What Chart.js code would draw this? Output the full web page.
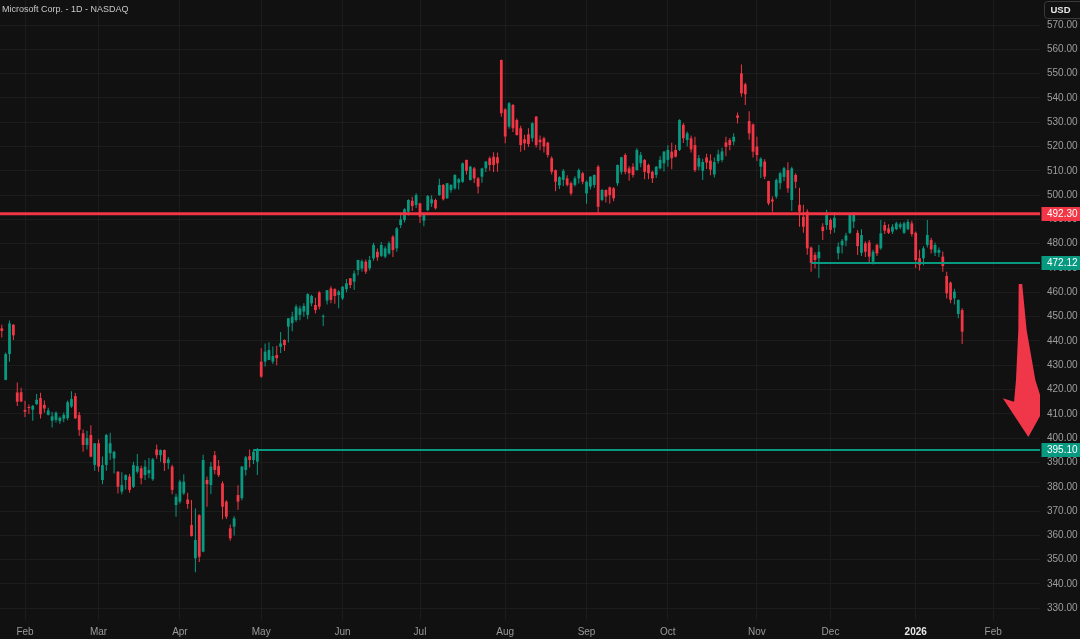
<!DOCTYPE html>
<html>
<head>
<meta charset="utf-8">
<script src="https://cdn.jsdelivr.net/npm/chart.js@4.4.1/dist/chart.umd.min.js"></script>
<style>
html,body{margin:0;padding:0;background:#111111;}
canvas{display:block;}
</style>
</head>
<body>
<canvas id="c" width="1080" height="639"></canvas>
<script>
// ---------------- DATA ----------------
const titleText = 'Microsoft Corp. - 1D - NASDAQ';
const currencyText = 'USD';

const dates = [
'2025-01-24','2025-01-27','2025-01-28','2025-01-29','2025-01-30','2025-01-31',
'2025-02-03','2025-02-04','2025-02-05','2025-02-06','2025-02-07','2025-02-10','2025-02-11','2025-02-12','2025-02-13','2025-02-14',
'2025-02-18','2025-02-19','2025-02-20','2025-02-21','2025-02-24','2025-02-25','2025-02-26','2025-02-27','2025-02-28',
'2025-03-03','2025-03-04','2025-03-05','2025-03-06','2025-03-07','2025-03-10','2025-03-11','2025-03-12','2025-03-13','2025-03-14',
'2025-03-17','2025-03-18','2025-03-19','2025-03-20','2025-03-21','2025-03-24','2025-03-25','2025-03-26','2025-03-27','2025-03-28','2025-03-31',
'2025-04-01','2025-04-02','2025-04-03','2025-04-04','2025-04-07','2025-04-08','2025-04-09','2025-04-10','2025-04-11',
'2025-04-14','2025-04-15','2025-04-16','2025-04-17','2025-04-21','2025-04-22','2025-04-23','2025-04-24','2025-04-25','2025-04-28','2025-04-29','2025-04-30',
'2025-05-01','2025-05-02','2025-05-05','2025-05-06','2025-05-07','2025-05-08','2025-05-09','2025-05-12','2025-05-13','2025-05-14','2025-05-15','2025-05-16',
'2025-05-19','2025-05-20','2025-05-21','2025-05-22','2025-05-23','2025-05-27','2025-05-28','2025-05-29','2025-05-30',
'2025-06-02','2025-06-03','2025-06-04','2025-06-05','2025-06-06','2025-06-09','2025-06-10','2025-06-11','2025-06-12','2025-06-13',
'2025-06-16','2025-06-17','2025-06-18','2025-06-20','2025-06-23','2025-06-24','2025-06-25','2025-06-26','2025-06-27','2025-06-30',
'2025-07-01','2025-07-02','2025-07-03','2025-07-07','2025-07-08','2025-07-09','2025-07-10','2025-07-11','2025-07-14','2025-07-15','2025-07-16','2025-07-17','2025-07-18',
'2025-07-21','2025-07-22','2025-07-23','2025-07-24','2025-07-25','2025-07-28','2025-07-29','2025-07-30','2025-07-31',
'2025-08-01','2025-08-04','2025-08-05','2025-08-06','2025-08-07','2025-08-08','2025-08-11','2025-08-12','2025-08-13','2025-08-14','2025-08-15',
'2025-08-18','2025-08-19','2025-08-20','2025-08-21','2025-08-22','2025-08-25','2025-08-26','2025-08-27','2025-08-28','2025-08-29',
'2025-09-02','2025-09-03','2025-09-04','2025-09-05','2025-09-08','2025-09-09','2025-09-10','2025-09-11','2025-09-12',
'2025-09-15','2025-09-16','2025-09-17','2025-09-18','2025-09-19','2025-09-22','2025-09-23','2025-09-24','2025-09-25','2025-09-26','2025-09-29','2025-09-30',
'2025-10-01','2025-10-02','2025-10-03','2025-10-06','2025-10-07','2025-10-08','2025-10-09','2025-10-10','2025-10-13','2025-10-14','2025-10-15','2025-10-16','2025-10-17',
'2025-10-20','2025-10-21','2025-10-22','2025-10-23','2025-10-24','2025-10-27','2025-10-28','2025-10-29','2025-10-30','2025-10-31',
'2025-11-03','2025-11-04','2025-11-05','2025-11-06','2025-11-07','2025-11-10','2025-11-11','2025-11-12','2025-11-13','2025-11-14',
'2025-11-17','2025-11-18','2025-11-19','2025-11-20','2025-11-21','2025-11-24','2025-11-25','2025-11-26','2025-11-28',
'2025-12-01','2025-12-02','2025-12-03','2025-12-04','2025-12-05','2025-12-08','2025-12-09','2025-12-10','2025-12-11','2025-12-12',
'2025-12-15','2025-12-16','2025-12-17','2025-12-18','2025-12-19','2025-12-22','2025-12-23','2025-12-24','2025-12-26','2025-12-29','2025-12-30','2025-12-31',
'2026-01-02','2026-01-05','2026-01-06','2026-01-07','2026-01-08','2026-01-09','2026-01-12','2026-01-13','2026-01-14','2026-01-15','2026-01-16','2026-01-20','2026-01-21'
];

const opens = [
445.2,424.0,434.6,446.7,418.8,418.9,
411.6,412.7,411.7,414.0,416.5,413.7,409.6,407.2,407.5,407.0,
408.0,408.2,413.0,417.3,409.5,402.0,397.2,401.3,389.0,
397.9,382.8,389.0,393.8,391.7,386.2,378.0,382.8,384.2,380.0,
386.2,387.6,384.8,385.5,383.1,395.4,393.0,395.1,389.7,388.3,372.5,
373.9,377.3,374.8,364.3,350.6,368.3,353.3,382.8,380.7,
393.0,388.5,381.4,373.9,362.9,363.6,376.6,375.3,386.9,392.6,391.0,390.3,
431.5,431.5,432.2,431.5,434.2,437.6,440.4,445.9,447.3,448.6,450.7,452.1,
450.7,455.5,454.8,460.0,449.9,456.6,461.6,461.3,458.9,
457.5,461.3,465.8,464.4,469.2,469.8,472.6,469.9,474.0,476.7,
475.0,474.7,476.0,482.9,478.1,487.7,489.8,493.2,497.7,495.9,
496.6,489.5,493.8,496.6,498.0,500.0,504.2,498.7,502.1,502.8,505.1,505.5,514.5,
506.2,511.0,506.9,507.6,511.0,515.2,515.8,515.6,555.6,
535.3,528.2,537.1,530.9,527.5,523.0,525.0,523.4,532.3,522.8,523.4,
521.6,515.2,510.3,504.0,506.3,506.9,504.9,504.2,506.9,509.0,
500.7,503.5,504.2,511.7,498.0,502.1,503.2,502.8,504.9,
509.6,516.5,511.0,511.7,510.3,513.1,514.5,512.4,509.6,508.3,511.0,513.1,
514.5,517.9,518.6,518.6,528.9,522.7,523.4,520.6,511.7,510.0,515.5,514.2,508.5,
514.0,514.5,521.7,522.7,522.0,532.8,550.1,545.6,530.5,529.1,
520.0,511.7,513.8,505.8,498.2,499.4,504.9,507.5,510.3,498.0,
508.3,496.0,491.1,493.2,478.4,475.4,474.0,487.0,487.7,
489.8,486.6,476.1,479.4,481.3,484.5,489.1,484.5,476.3,480.2,
480.6,472.6,479.5,478.1,487.7,486.3,485.0,486.0,486.8,484.5,486.0,488.4,
484.5,474.0,474.0,479.5,481.5,476.3,476.3,474.7,466.7,464.0,457.5,451.1,452.7
];

const highs = [
446.7,435.2,448.4,446.9,422.9,420.7,
415.4,413.9,413.6,418.2,418.7,415.5,412.5,410.8,411.0,408.9,
410.6,415.5,419.3,418.6,410.8,403.6,403.1,405.3,397.9,
399.5,392.5,401.8,402.2,394.8,386.4,386.0,385.2,385.3,390.3,
393.5,388.6,391.0,391.8,391.8,397.4,395.3,395.3,392.2,389.1,377.1,
382.9,385.1,377.5,374.6,371.1,368.7,393.2,384.2,390.2,
394.7,391.0,382.3,374.5,364.5,367.9,380.6,388.5,392.7,395.3,395.3,396.0,
437.0,439.0,439.5,437.7,438.0,443.7,440.7,449.4,452.0,455.0,454.5,455.5,
459.6,459.0,457.8,460.5,450.9,461.0,462.5,461.7,461.0,
462.6,465.5,465.9,469.0,473.4,473.5,473.5,475.0,480.4,478.0,
480.7,479.0,481.0,483.5,486.9,491.9,494.6,498.3,499.3,500.8,
496.9,492.5,500.1,500.0,498.6,506.7,504.6,505.0,504.5,508.6,507.0,513.4,514.6,
512.1,511.6,507.5,511.3,514.0,515.9,517.6,517.5,555.8,
535.8,538.3,537.5,531.5,528.5,524.8,527.5,530.0,532.6,524.5,524.0,
522.0,516.0,510.5,507.8,510.8,508.2,505.6,507.8,511.0,509.6,
506.0,507.8,508.5,512.4,502.5,502.3,503.5,503.3,512.6,
515.8,517.2,512.0,513.1,519.3,517.7,514.9,512.9,510.0,512.0,516.0,518.2,
520.5,521.6,520.7,531.2,529.7,526.2,524.5,524.0,516.5,515.0,517.0,516.8,515.5,
518.7,519.5,524.0,523.5,525.5,534.0,553.8,546.2,534.5,529.5,
524.0,515.6,514.8,505.9,499.4,506.8,509.6,511.7,513.5,511.7,
509.0,503.0,496.0,494.2,478.9,476.5,479.5,488.4,494.0,
490.5,493.0,480.5,482.0,484.5,492.5,493.0,485.7,486.0,481.0,
481.5,477.5,480.0,489.8,489.0,488.0,488.0,489.0,488.8,489.0,490.0,489.5,
485.0,477.5,479.0,489.8,482.5,480.5,478.5,476.8,468.5,464.5,461.5,457.1,453.5
];

const lows = [
441.4,423.8,431.4,440.4,413.2,414.9,
408.7,409.9,407.2,413.5,408.1,410.5,409.3,404.4,406.4,405.9,
406.5,407.4,412.5,407.9,401.0,394.4,395.3,392.1,386.6,
386.2,381.0,386.6,391.0,385.5,377.2,376.9,378.9,377.5,379.5,
385.5,381.0,382.8,383.5,382.5,391.5,390.3,386.5,387.2,376.9,367.7,
373.1,376.6,371.0,359.5,344.8,349.0,353.1,371.8,377.0,
385.2,384.0,366.6,366.7,357.8,360.0,370.5,374.5,384.6,387.9,389.4,384.8,
424.9,429.5,432.1,430.5,430.0,435.0,435.9,439.4,444.0,447.8,448.5,450.0,
448.9,454.3,451.3,453.0,446.2,455.0,455.5,455.3,453.5,
456.8,460.0,461.7,461.0,467.0,468.6,467.5,469.0,473.0,473.0,
474.5,474.0,475.5,474.5,476.7,486.5,488.7,491.6,493.5,494.7,
488.5,487.2,493.4,495.1,494.1,499.7,497.8,498.5,501.0,502.2,502.3,505.0,508.5,
506.0,505.0,500.7,505.1,509.5,510.0,509.5,509.6,532.3,
521.3,527.3,526.0,524.5,517.9,518.5,519.8,522.0,519.6,518.5,517.5,
515.5,508.5,501.6,502.5,503.8,503.5,499.8,503.6,504.8,504.5,
496.5,502.3,503.0,492.4,497.5,497.0,496.5,497.5,503.9,
508.5,508.6,505.9,507.3,510.0,511.5,506.5,506.5,505.0,507.0,510.5,509.7,
511.7,510.7,515.5,518.2,521.5,520.0,517.5,509.5,510.2,506.2,510.8,508.2,507.3,
513.0,513.5,516.0,518.5,520.5,529.5,540.5,537.1,522.8,515.5,
514.0,507.1,506.5,495.8,493.2,498.5,502.4,505.7,501.0,493.5,
502.8,487.0,484.5,475.5,468.5,469.9,465.9,481.5,485.8,
484.0,484.5,473.5,476.0,479.0,484.0,486.5,475.4,475.0,474.5,
472.5,471.5,475.0,477.5,484.0,484.0,484.0,485.5,486.0,484.0,485.5,483.0,
470.0,469.0,471.0,478.5,476.0,475.0,474.5,468.5,457.5,455.5,455.0,449.3,438.7
];

const closes = [
444.1,434.6,447.2,442.3,415.0,415.1,
410.9,412.4,413.3,415.8,409.8,412.2,411.4,409.0,410.5,408.4,
409.6,414.8,416.1,408.2,403.4,397.2,400.0,392.4,397.9,
388.3,388.9,401.3,397.9,394.4,380.0,380.7,384.8,378.7,388.9,
388.5,383.5,388.3,386.9,391.3,393.0,395.1,389.7,391.3,378.7,375.9,
382.1,382.1,372.9,359.7,358.1,351.2,391.0,381.1,388.3,
386.9,384.8,371.8,367.7,358.8,367.0,373.9,388.3,392.1,391.0,394.4,395.1,
425.3,435.6,436.3,433.8,432.9,439.0,438.3,449.3,450.0,454.1,453.4,454.4,
459.3,458.5,452.7,454.1,450.2,460.9,456.9,458.5,460.3,
462.3,463.7,463.0,467.8,473.3,472.8,468.5,473.3,479.5,474.4,
479.5,478.1,480.2,477.4,486.3,490.0,494.2,498.0,495.5,500.0,
491.1,491.8,499.6,498.3,494.6,504.2,498.3,504.9,504.2,508.3,506.5,513.1,510.0,
511.7,506.9,503.5,511.0,513.8,512.4,512.4,513.1,533.7,
524.1,537.8,527.5,524.7,520.6,521.3,521.0,529.6,520.6,521.8,520.0,
516.5,509.6,505.5,507.4,510.0,504.2,500.7,506.9,510.3,505.5,
505.5,507.6,508.3,495.2,502.1,499.4,500.0,498.7,512.4,
515.6,509.6,509.0,508.3,518.6,516.5,509.6,509.0,506.9,511.7,514.5,517.9,
518.6,515.2,515.8,530.9,523.4,525.4,518.8,510.3,515.2,513.6,513.4,510.5,513.6,
516.8,518.0,519.9,520.6,524.0,531.8,541.9,541.5,525.4,517.9,
516.5,515.0,507.6,496.6,497.4,506.2,509.0,511.1,502.8,511.0,
505.5,493.2,487.0,478.1,472.1,473.3,476.7,485.2,492.5,
485.7,490.7,478.8,481.2,483.4,491.8,492.2,479.0,483.6,476.7,
474.7,476.7,476.0,484.3,485.4,484.5,487.0,488.4,488.0,488.4,489.0,484.0,
473.3,471.3,478.1,483.6,477.7,479.5,477.4,470.8,459.6,456.9,460.3,456.9,443.8
];

// empty future sessions shown to the right of the last candle
const futureDates = [
'2026-01-22','2026-01-23','2026-01-26','2026-01-27','2026-01-28','2026-01-29','2026-01-30',
'2026-02-02','2026-02-03','2026-02-04','2026-02-05','2026-02-06','2026-02-09','2026-02-10',
'2026-02-11','2026-02-12','2026-02-13','2026-02-17','2026-02-18','2026-02-19'
];

const priceTicks = [570,560,550,540,530,520,510,500,490,480,470,460,450,440,430,420,410,400,390,380,370,360,350,340,330];
const monthNames = ['Jan','Feb','Mar','Apr','May','Jun','Jul','Aug','Sep','Oct','Nov','Dec'];

const levelPrices = [492.30, 472.12, 395.10];
const levelFromDates = [null, '2025-11-21', '2025-04-29'];
const levelKinds = ['down', 'up', 'up'];

// ---------------- STYLE ----------------
const UP = '#089981';
const DOWN = '#f23645';
const BG = '#111111';
const GRID = '#1c1c1c';
const X_MIN = -0.457;
const X_MAX = 268.1;
const Y_MIN = 325.18;
const Y_MAX = 580.29;

// ---------------- BUILD ----------------
const allDates = dates.concat(futureDates);
const monthTicks = [];
allDates.forEach((d, i) => {
  if (i === 0) return;
  if (allDates[i - 1].slice(0, 7) !== d.slice(0, 7)) {
    const m = parseInt(d.slice(5, 7), 10) - 1;
    monthTicks.push({ value: i, label: m === 0 ? d.slice(0, 4) : monthNames[m] });
  }
});
const tickLabel = {};
monthTicks.forEach(t => { tickLabel[t.value] = t.label; });
const yearTickValues = monthTicks.filter(t => /^\d{4}$/.test(t.label)).map(t => t.value);

const candleColors = dates.map((d, i) => closes[i] >= opens[i] ? UP : DOWN);
const wickData = dates.map((d, i) => ({ x: i, y: [lows[i], highs[i]] }));
const bodyData = dates.map((d, i) => ({ x: i, y: [opens[i], closes[i]] }));

const levelDatasets = levelPrices.map((p, k) => ({
  type: 'line',
  data: [
    { x: levelFromDates[k] ? allDates.indexOf(levelFromDates[k]) : X_MIN - 1, y: p },
    { x: X_MAX + 1, y: p }
  ],
  borderColor: levelKinds[k] === 'down' ? DOWN : UP,
  borderWidth: levelKinds[k] === 'down' ? 3 : 2,
  pointRadius: 0,
  fill: false,
  order: 0,
  clip: 0
}));

// arrow drawn in data coordinates (index, price)
const arrowShape = [
  [262.6,463.4],[263.5,463.4],[264.65,444.5],[266.9,423.9],[268.3,416.9],[270.7,416.5],
  [265.1,400.5],[258.5,416.4],[261.4,415.0],[261.9,423.9],[262.5,444.5]
];

const overlay = {
  id: 'overlay',
  afterDatasetsDraw(chart) {
    const { ctx, chartArea: a, scales: { x, y } } = chart;
    ctx.save();
    ctx.beginPath();
    ctx.rect(a.left, a.top, a.right - a.left, a.bottom - a.top);
    ctx.clip();
    ctx.fillStyle = '#f0374a';
    ctx.beginPath();
    arrowShape.forEach(([j, p], k) => {
      const px = x.getPixelForValue(j), py = y.getPixelForValue(p);
      if (k === 0) ctx.moveTo(px, py); else ctx.lineTo(px, py);
    });
    ctx.closePath();
    ctx.fill();
    ctx.restore();
  },
  afterDraw(chart) {
    const { ctx, chartArea: a, scales: { y } } = chart;
    ctx.save();
    // level price tags on axis
    ctx.font = '10px "Liberation Sans", Arial, sans-serif';
    ctx.textBaseline = 'middle';
    ctx.textAlign = 'left';
    levelPrices.forEach((p, k) => {
      const py = Math.round(y.getPixelForValue(p));
      ctx.fillStyle = levelKinds[k] === 'down' ? DOWN : UP;
      ctx.fillRect(a.right + 1.5, py - 7, chart.width - a.right - 1.5, 14);
      ctx.fillStyle = '#ffffff';
      ctx.fillText(p.toFixed(2), a.right + 7, py + 0.5);
    });
    // currency box
    ctx.strokeStyle = '#3a3a3a';
    ctx.lineWidth = 1;
    ctx.fillStyle = BG;
    const bx = 1044.5, by = 1.5, bw = 40, bh = 17, r = 3;
    ctx.beginPath();
    ctx.moveTo(bx + r, by);
    ctx.lineTo(bx + bw, by);
    ctx.lineTo(bx + bw, by + bh);
    ctx.lineTo(bx + r, by + bh);
    ctx.arcTo(bx, by + bh, bx, by + bh - r, r);
    ctx.lineTo(bx, by + r);
    ctx.arcTo(bx, by, bx + r, by, r);
    ctx.closePath();
    ctx.fill();
    ctx.stroke();
    ctx.fillStyle = '#e6e6e6';
    ctx.font = 'bold 9.5px "Liberation Sans", Arial, sans-serif';
    ctx.textAlign = 'center';
    ctx.fillText(currencyText, 1060.5, 10.5);
    // title
    ctx.textAlign = 'left';
    ctx.font = '9px "Liberation Sans", Arial, sans-serif';
    ctx.fillStyle = '#c8c8c8';
    ctx.fillText(titleText, 2, 9.5);
    ctx.restore();
  }
};

Chart.defaults.font.family = '"Liberation Sans", Arial, sans-serif';

new Chart(document.getElementById('c'), {
  type: 'bar',
  data: {
    datasets: [
      ...levelDatasets,
      {
        type: 'bar',
        data: bodyData,
        backgroundColor: candleColors,
        borderWidth: 0,
        grouped: false,
        maxBarThickness: 3,
        minBarLength: 1,
        order: 1
      },
      {
        type: 'bar',
        data: wickData,
        backgroundColor: candleColors,
        borderWidth: 0,
        grouped: false,
        maxBarThickness: 1,
        order: 2
      }
    ]
  },
  options: {
    responsive: false,
    devicePixelRatio: 1,
    animation: false,
    layout: { padding: 0 },
    plugins: { legend: { display: false }, tooltip: { enabled: false }, title: { display: false } },
    scales: {
      x: {
        type: 'linear',
        min: X_MIN,
        max: X_MAX,
        offset: false,
        afterBuildTicks: s => { s.ticks = monthTicks.map(t => ({ value: t.value })); },
        afterFit: s => { s.height = 19; s.paddingLeft = 0; s.paddingRight = 0; },
        grid: { color: GRID, drawTicks: false, lineWidth: 1, offset: false },
        border: { display: false },
        ticks: {
          autoSkip: false,
          maxRotation: 0,
          padding: 6,
          callback: v => tickLabel[v] || '',
          color: c => (c.tick && yearTickValues.includes(c.tick.value)) ? '#e8e8e8' : '#9a9a9a',
          font: c => ({ size: 10, weight: (c.tick && yearTickValues.includes(c.tick.value)) ? 'bold' : 'normal' })
        }
      },
      y: {
        type: 'linear',
        position: 'right',
        min: Y_MIN,
        max: Y_MAX,
        afterBuildTicks: s => { s.ticks = priceTicks.map(v => ({ value: v })); },
        afterFit: s => { s.width = 40; s.paddingTop = 0; s.paddingBottom = 0; },
        grid: { color: GRID, drawTicks: false, lineWidth: 1, offset: false },
        border: { display: false },
        ticks: {
          autoSkip: false,
          padding: 7,
          color: '#9e9e9e',
          font: { size: 10 },
          callback: v => Number(v).toFixed(2)
        }
      }
    }
  },
  plugins: [overlay]
});
</script>
</body>
</html>
